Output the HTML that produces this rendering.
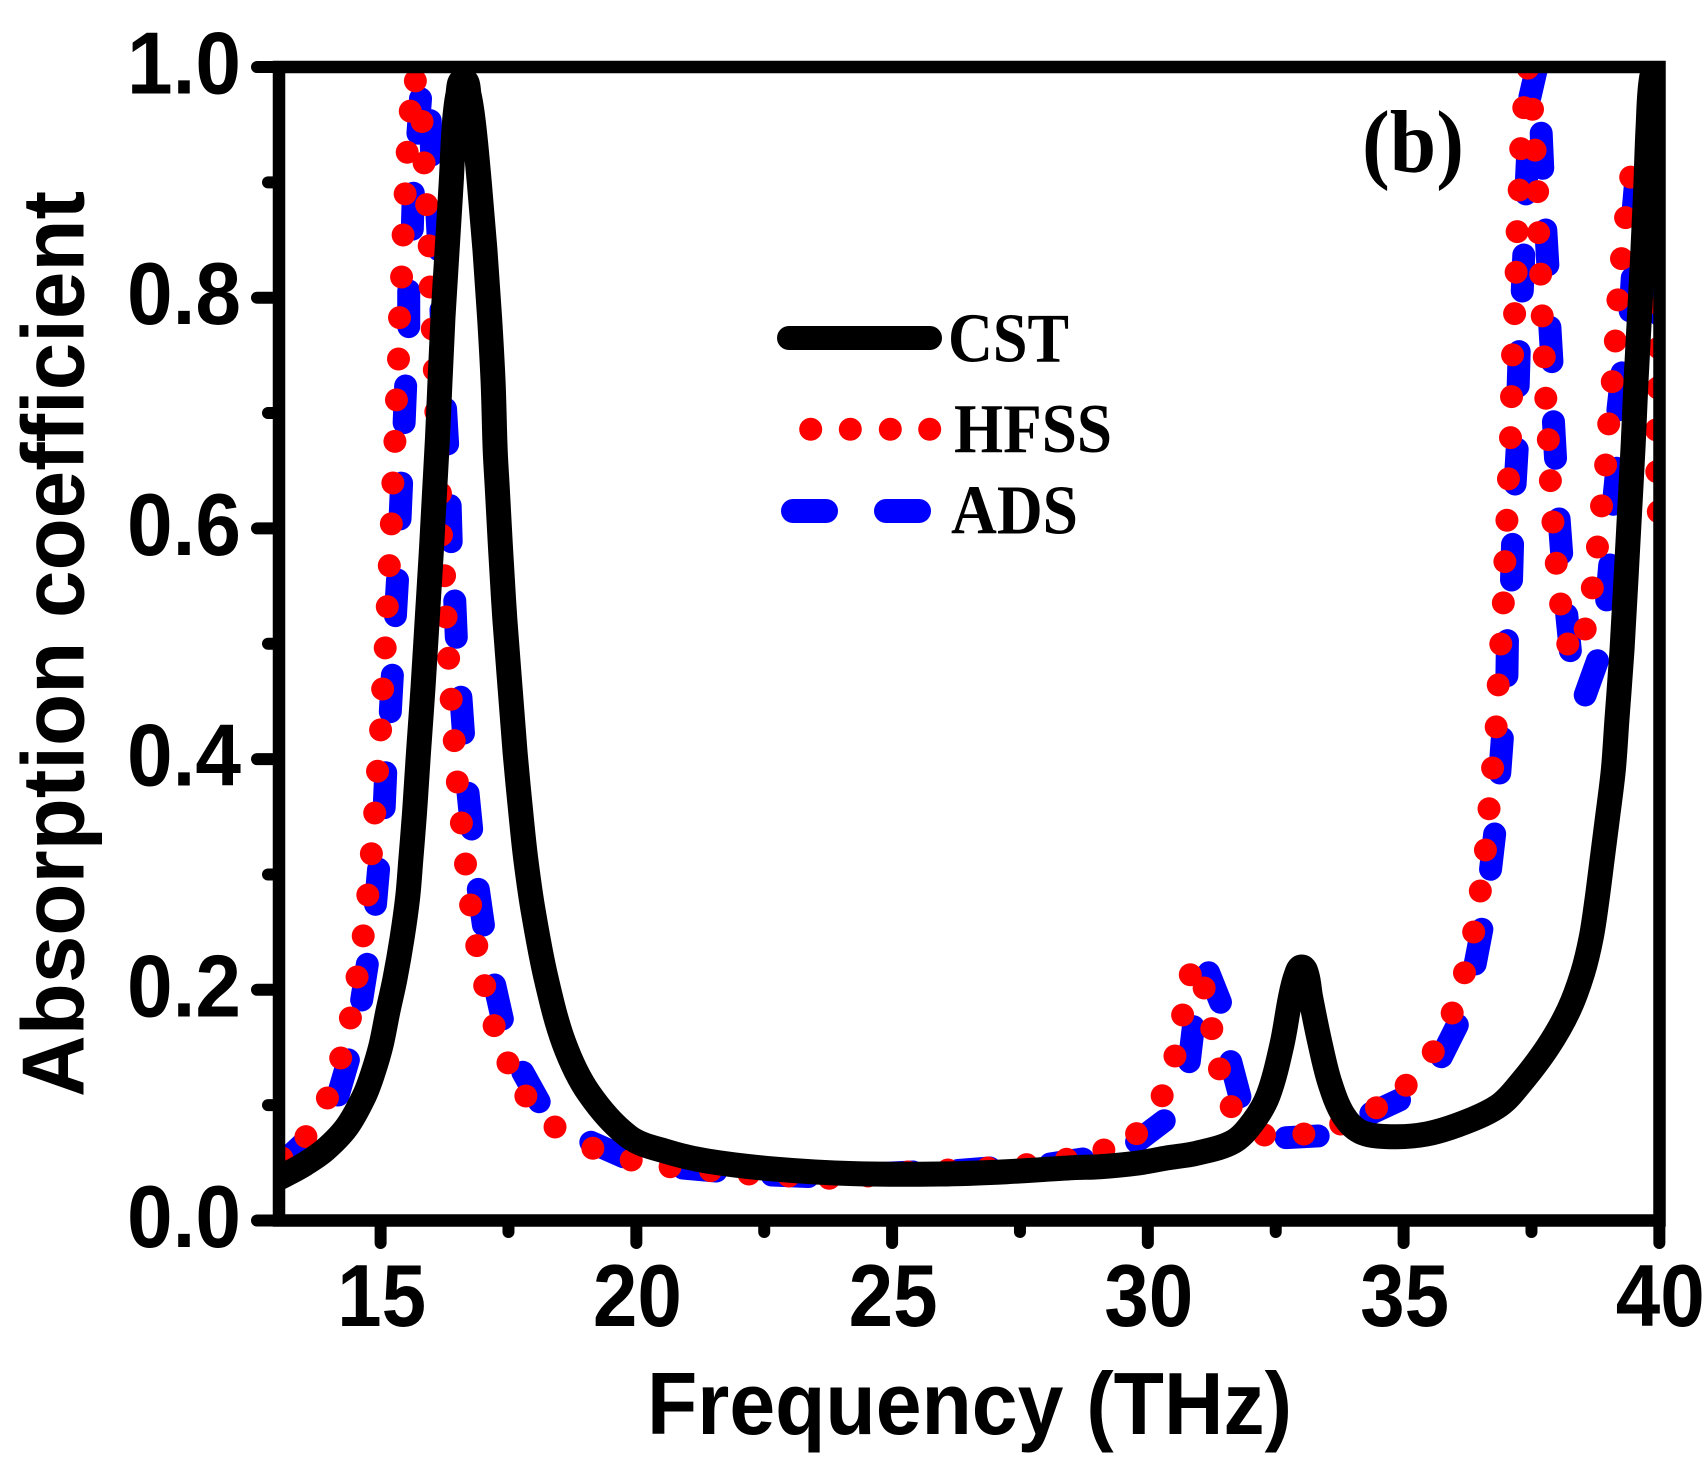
<!DOCTYPE html>
<html lang="en">
<head>
<meta charset="utf-8">
<title>Absorption coefficient vs frequency</title>
<style>
html,body{margin:0;padding:0;background:#fff;}
svg{display:block;}
.num{font-family:"Liberation Sans",sans-serif;font-weight:bold;font-size:88px;fill:#000;}
.title{font-family:"Liberation Sans",sans-serif;font-weight:bold;font-size:88px;fill:#000;}
.serif{font-family:"Liberation Serif",serif;font-weight:bold;font-size:70px;fill:#000;}
</style>
</head>
<body>
<svg id="chart" xmlns="http://www.w3.org/2000/svg" width="1707" height="1475" viewBox="0 0 1707 1475">
  <rect x="0" y="0" width="1707" height="1475" fill="#fff"/>
  <defs><clipPath id="plot-clip"><rect x="279" y="67" width="1380" height="1153.5"/></clipPath></defs>
  <g id="series" clip-path="url(#plot-clip)"></g>
  <g id="axes"></g>
  <text class="title" transform="translate(83.5,1097) rotate(-90)" textLength="906" lengthAdjust="spacingAndGlyphs">Absorption coefficient</text>
  <text class="title" x="647" y="1434" textLength="645" lengthAdjust="spacingAndGlyphs">Frequency (THz)</text>
  <text class="serif" style="font-size:89px" x="1362" y="172" textLength="102" lengthAdjust="spacingAndGlyphs">(b)</text>
  <g>
    <g>
      <line x1="789" y1="338" x2="930" y2="338" stroke="#000" stroke-width="24" stroke-linecap="round"/>
      <text class="serif" x="948" y="361.5" textLength="121" lengthAdjust="spacingAndGlyphs">CST</text>
    </g>
    <g>
      <g fill="#ff0000">
        <circle cx="810.7" cy="429.3" r="11.5"/><circle cx="850.3" cy="429.3" r="11.5"/><circle cx="890.3" cy="429.3" r="11.5"/><circle cx="929.7" cy="429.3" r="11.5"/>
      </g>
      <text class="serif" x="954" y="452" textLength="158" lengthAdjust="spacingAndGlyphs">HFSS</text>
    </g>
    <g>
      <g stroke="#0000ff" stroke-width="24" stroke-linecap="round">
        <line x1="793" y1="511" x2="826" y2="511"/><line x1="886" y1="511" x2="919" y2="511"/>
      </g>
      <text class="serif" x="951" y="533.5" textLength="127" lengthAdjust="spacingAndGlyphs">ADS</text>
    </g>
  </g>
</svg>
<script>
var xTickLabels = [15, 20, 25, 30, 35, 40];
var xMinorTicks = [17.5, 22.5, 27.5, 32.5, 37.5];
var yTickLabels = ["0.0", "0.2", "0.4", "0.6", "0.8", "1.0"];
var yMinorTicks = [0.1, 0.3, 0.5, 0.7, 0.9];

var cstFreq = [13.01,13.13,13.52,13.91,14.34,14.68,14.85,15.01,15.14,15.28,15.42,15.53,15.59,15.66,15.74,15.83,15.91,15.99,16.06,16.11,16.16,16.22,16.30,16.38,16.44,16.51,16.62,16.73,16.82,16.93,17.04,17.13,17.20,17.24,17.28,17.35,17.43,17.53,17.63,17.755,17.84,17.98,18.23,18.585,19.07,19.86,20.62,21.38,22.67,24.24,25.94,27.24,28.54,29.06,29.85,30.37,30.955,31.67,32.06,32.355,32.62,32.79,32.90,33.01,33.11,33.18,33.365,33.56,33.82,34.15,34.67,35.45,36.23,36.88,37.29,37.82,38.23,38.50,38.67,38.78,38.88,38.98,39.10,39.17,39.27,39.35,39.42,39.49,39.54,39.60,39.67,39.73,39.78,39.85,40.0];
var cstAbs = [.0368,.0394,.049,.0611,.0811,.1079,.1279,.1522,.1808,.2094,.2449,.2805,.3125,.3516,.4053,.4625,.5206,.5787,.6359,.6766,.7261,.7833,.8414,.8995,.9497,.9757,.9888,.9757,.9497,.8995,.8414,.7833,.7261,.668,.6359,.5787,.5206,.4625,.4053,.3472,.3125,.2692,.2111,.1539,.1105,.0724,.0594,.0516,.0447,.0406,.0403,.0423,.0458,.0466,.0501,.0542,.0583,.0683,.0857,.1088,.1522,.194,.2128,.2198,.2128,.194,.1539,.1192,.0915,.077,.0727,.075,.0857,.1001,.1192,.1504,.1825,.2146,.2458,.2779,.3125,.3472,.3905,.4339,.4946,.5579,.6159,.674,.7244,.7746,.8327,.8907,.948,.9913,1.006];

var hfssFreq = [13.07,13.54,13.96,14.22,14.41,14.54,14.66,14.75,14.82,14.885,14.94,15.00,15.04,15.09,15.13,15.17,15.21,15.24,15.28,15.31,15.35,15.37,15.41,15.44,15.48,15.52,15.58,15.68,15.81,15.85,15.90,15.95,15.97,16.01,16.05,16.08,16.12,16.17,16.19,16.25,16.28,16.33,16.38,16.44,16.50,16.58,16.66,16.76,16.88,17.035,17.22,17.49,17.84,18.41,19.15,19.90,20.66,21.45,22.20,22.98,23.77,24.53,25.31,26.09,26.87,27.63,28.41,29.14,29.78,30.28,30.53,30.68,30.83,31.10,31.25,31.40,31.63,32.28,33.05,33.77,34.47,35.05,35.58,35.95,36.19,36.37,36.50,36.60,36.67,36.74,36.81,36.85,36.90,36.95,36.98,37.02,37.05,37.09,37.11,37.13,37.17,37.20,37.22,37.26,37.29,37.35,37.43,37.52,37.57,37.62,37.64,37.68,37.71,37.75,37.78,37.83,37.87,37.92,37.985,38.07,38.21,38.55,38.69,38.79,38.87,38.95,39.01,39.08,39.14,39.19,39.26,39.34,39.44,40.07,40.03,39.99,39.97,39.94,39.95,39.98];
var hfssAbs = [.0542,.0727,.1062,.1409,.1756,.2111,.2467,.2822,.318,.3533,.3895,.4253,.4608,.4964,.5322,.5677,.6039,.6394,.6754,.7114,.7469,.7827,.818,.8544,.89,.9261,.9617,.988,.9527,.9169,.8807,.8449,.8093,.7729,.7374,.7012,.6654,.6305,.5943,.559,.5232,.4874,.4519,.416,.3802,.3446,.3091,.2735,.2383,.2036,.1689,.1366,.1079,.0811,.0626,.0525,.0466,.0432,.0403,.0386,.0366,.0386,.042,.0438,.0455,.0484,.0531,.0611,.0753,.1082,.1426,.1782,.2131,.2016,.1663,.1314,.0987,.0741,.075,.0837,.0978,.1172,.1463,.1799,.2148,.2501,.2857,.3212,.357,.3923,.4279,.4643,.4998,.5354,.5712,.6071,.6429,.6787,.7142,.7504,.7862,.8221,.8573,.8934,.9292,.9648,.999,.9634,.9279,.892,.8564,.8204,.7842,.7487,.7128,.677,.6414,.6056,.5698,.5345,.4998,.5128,.5484,.5839,.6195,.655,.6906,.7272,.7625,.7981,.8339,.8694,.9045,.8258,.7929,.7565,.7218,.6854,.6492,.6145];

/* ADS is a dashed curve: every two consecutive samples bound one visible dash */
var adsFreq = [12.97,13.52,14.17,14.37,14.63,14.74,14.90,14.96,15.07,15.10,15.19,15.23,15.29,15.33,15.38,15.41,15.46,15.49,15.55,15.55,15.62,15.64,15.73,15.78,15.97,16.00,16.10,16.14,16.18,16.21,16.27,16.31,16.36,16.38,16.45,16.48,16.57,16.62,16.71,16.78,16.91,17.01,17.23,17.38,17.78,18.10,19.11,19.75,20.91,21.56,22.65,23.36,24.76,25.41,26.29,26.91,28.09,28.73,29.78,30.32,30.81,30.89,31.19,31.42,31.62,31.80,32.70,33.33,34.36,34.92,35.74,36.05,36.40,36.53,36.70,36.78,36.88,36.93,37.02,37.03,37.11,37.13,37.18,37.22,37.24,37.26,37.32,37.35,37.39,37.42,37.47,37.61,37.69,37.72,37.78,37.82,37.86,37.90,37.93,37.97,38.04,38.09,38.19,38.26,38.55,38.79,38.97,39.03,39.10,39.17,39.19,39.27,39.43,39.47,39.48,39.54,40.01,40.07];
var adsAbs = [.0455,.0681,.1088,.1392,.1912,.2221,.2741,.3045,.3579,.3882,.4411,.4727,.5244,.5553,.6082,.6392,.6917,.7235,.7749,.8059,.8594,.8906,.9426,.9726,.9535,.9238,.8735,.8414,.7894,.759,.7036,.6732,.6197,.5885,.5371,.5056,.4536,.4224,.3704,.3394,.2871,.2562,.2042,.1747,.1285,.103,.0678,.0553,.0455,.0429,.0394,.0381,.0407,.042,.0434,.0455,.049,.0533,.0683,.0865,.1377,.168,.2148,.1892,.1377,.1073,.0718,.0733,.0929,.1045,.142,.1695,.2224,.2525,.3045,.3351,.388,.4181,.4723,.5027,.5553,.5862,.6385,.6686,.7235,.7532,.8058,.837,.89,.9194,.9741,1.001,.9426,.9122,.8587,.8284,.7744,.7446,.6925,.6608,.6082,.5785,.525,.494,.4556,.4853,.538,.5683,.6209,.6521,.7027,.7348,.7885,.8171,.8718,.9021,.785,.811];

var NS = "http://www.w3.org/2000/svg";
function xScale(f) { return 278.3 + (f - 13) * 51.15; }
function yScale(v) { return 1220.5 - v * 1153.5; }

var seriesLayer = document.getElementById("series");
var axesLayer = document.getElementById("axes");

/* ADS dashes */
var adsD = "";
for (var a = 0; a + 1 < adsFreq.length; a += 2) {
  adsD += "M" + xScale(adsFreq[a]).toFixed(2) + " " + yScale(adsAbs[a]).toFixed(2) +
          "L" + xScale(adsFreq[a + 1]).toFixed(2) + " " + yScale(adsAbs[a + 1]).toFixed(2);
}
var adsPath = document.createElementNS(NS, "path");


adsPath.setAttribute("d", adsD);
adsPath.setAttribute("fill", "none");
adsPath.setAttribute("stroke", "#0000ff");
adsPath.setAttribute("stroke-width", "23");
adsPath.setAttribute("stroke-linecap", "round");
seriesLayer.appendChild(adsPath);

/* HFSS dots */
var hfssGroup = document.createElementNS(NS, "g");


hfssGroup.setAttribute("fill", "#ff0000");
seriesLayer.appendChild(hfssGroup);
for (var h = 0; h < hfssFreq.length; h++) {
  var dot = document.createElementNS(NS, "circle");
  
  
  dot.setAttribute("cx", xScale(hfssFreq[h]).toFixed(2));
  dot.setAttribute("cy", yScale(hfssAbs[h]).toFixed(2));
  dot.setAttribute("r", "11.5");
  hfssGroup.appendChild(dot);
}

/* CST solid line: smooth curve through the samples */
function smoothPath(xs, ys) {
  var n = xs.length;
  var tx = [], ty = [];
  for (var i = 0; i < n; i++) {
    var p = xs[Math.max(i - 1, 0)], q = ys[Math.max(i - 1, 0)];
    var r = xs[Math.min(i + 1, n - 1)], s = ys[Math.min(i + 1, n - 1)];
    var len = Math.hypot(r - p, s - q) || 1;
    tx.push((r - p) / len);
    ty.push((s - q) / len);
  }
  var d = "M" + xs[0].toFixed(2) + " " + ys[0].toFixed(2);
  for (var k = 0; k < n - 1; k++) {
    var seg = Math.hypot(xs[k + 1] - xs[k], ys[k + 1] - ys[k]) / 3;
    d += "C" + (xs[k] + tx[k] * seg).toFixed(2) + " " + (ys[k] + ty[k] * seg).toFixed(2) + " " +
         (xs[k + 1] - tx[k + 1] * seg).toFixed(2) + " " + (ys[k + 1] - ty[k + 1] * seg).toFixed(2) + " " +
         xs[k + 1].toFixed(2) + " " + ys[k + 1].toFixed(2);
  }
  return d;
}
var cstLine = document.createElementNS(NS, "path");


cstLine.setAttribute("d", smoothPath(cstFreq.map(xScale), cstAbs.map(yScale)));
cstLine.setAttribute("fill", "none");
cstLine.setAttribute("stroke", "#000");
cstLine.setAttribute("stroke-width", "25");
cstLine.setAttribute("stroke-linejoin", "round");
seriesLayer.appendChild(cstLine);

/* Axes helpers */
function strokeLine(x1, y1, x2, y2, w, cap) {
  var l = document.createElementNS(NS, "line");
  l.setAttribute("x1", x1);
  l.setAttribute("y1", y1);
  l.setAttribute("x2", x2);
  l.setAttribute("y2", y2);
  l.setAttribute("stroke", "#000");
  l.setAttribute("stroke-width", w);
  l.setAttribute("stroke-linecap", cap);
  axesLayer.appendChild(l);
  return l;
}

var frame = document.createElementNS(NS, "rect");


frame.setAttribute("x", "279");
frame.setAttribute("y", "67");
frame.setAttribute("width", "1380.5");
frame.setAttribute("height", "1153.5");
frame.setAttribute("fill", "none");
frame.setAttribute("stroke", "#000");
frame.setAttribute("stroke-width", "12.5");
axesLayer.appendChild(frame);

var plotBottom = yScale(0);
var plotLeft = 279;

for (var i = 0; i < xTickLabels.length; i++) {
  var tx = xScale(xTickLabels[i]);
  var xt = strokeLine(tx, plotBottom, tx, 1243, 12, "round");
  
  
  var xl = document.createElementNS(NS, "text");
  
  
  xl.setAttribute("class", "num");
  xl.setAttribute("x", (tx + 1).toFixed(1));
  xl.setAttribute("y", "1326");
  xl.setAttribute("text-anchor", "middle");
  xl.setAttribute("textLength", "89");
  xl.setAttribute("lengthAdjust", "spacingAndGlyphs");
  xl.textContent = String(xTickLabels[i]);
  axesLayer.appendChild(xl);
}
for (var m = 0; m < xMinorTicks.length; m++) {
  var mx = xScale(xMinorTicks[m]);
  var xm = strokeLine(mx, plotBottom, mx, 1232, 12, "round");
  
  
}
for (var j = 0; j < yTickLabels.length; j++) {
  var ty = yScale(parseFloat(yTickLabels[j]));
  var yt = strokeLine(257, ty, plotLeft, ty, 12, "round");
  
  
  var yl = document.createElementNS(NS, "text");
  
  
  yl.setAttribute("class", "num");
  yl.setAttribute("x", "127");
  yl.setAttribute("y", (ty + 26.5).toFixed(1));
  yl.setAttribute("textLength", "114");
  yl.setAttribute("lengthAdjust", "spacingAndGlyphs");
  yl.textContent = yTickLabels[j];
  axesLayer.appendChild(yl);
}
for (var n = 0; n < yMinorTicks.length; n++) {
  var my = yScale(yMinorTicks[n]);
  var ym = strokeLine(268, my, plotLeft, my, 12, "round");
  
  
}
</script>
</body>
</html>
